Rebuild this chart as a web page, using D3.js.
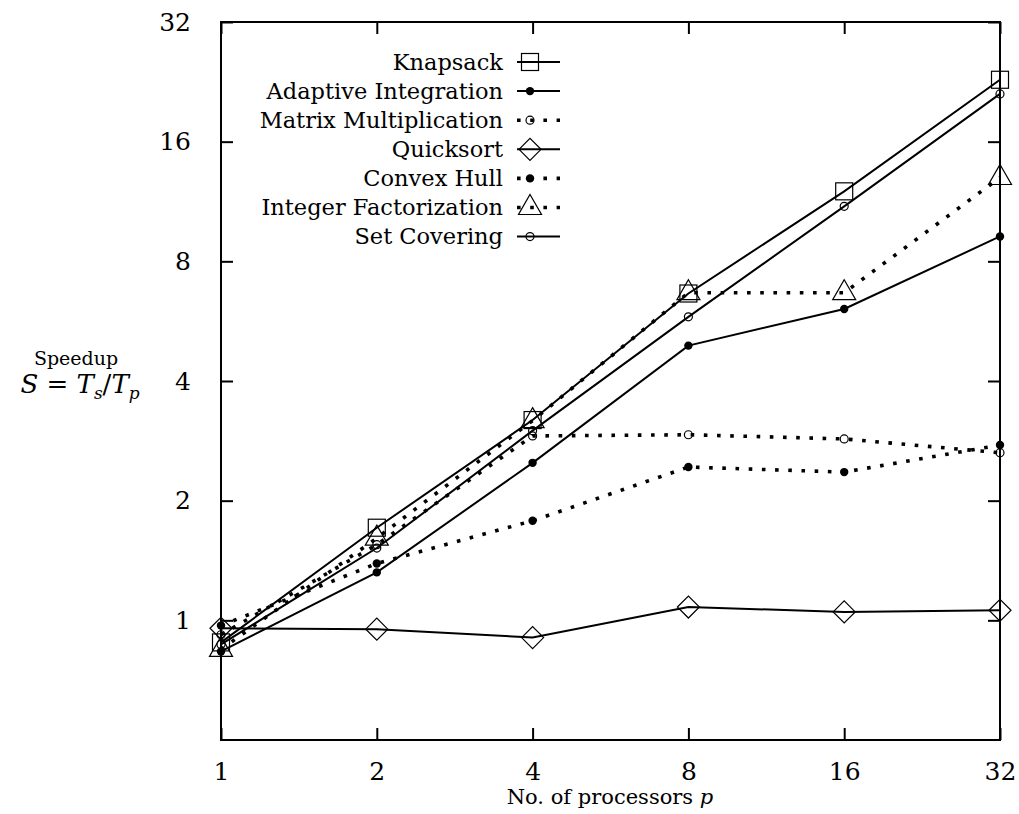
<!DOCTYPE html>
<html>
<head>
<meta charset="utf-8">
<script src="https://cdn.jsdelivr.net/npm/d3@7"></script>
<style>
  body { margin: 0; background: #fff; }
  text { font-family: "DejaVu Serif", "Liberation Serif", serif; fill: #000; }
</style>
</head>
<body>
<svg id="chart" width="1019" height="814"></svg>
<script>
// Data
var procs = [1, 2, 4, 8, 16, 32];
var speedTicks = [1, 2, 4, 8, 16, 32];

var knapsack = [0.88, 1.71, 3.19, 6.64, 12.0, 22.9];
var adaptive = [0.835, 1.32, 2.49, 4.91, 6.07, 9.24];
var matrixMult = [0.92, 1.55, 2.91, 2.93, 2.86, 2.64];
var quicksort = [0.955, 0.95, 0.905, 1.08, 1.05, 1.06];
var convexHull = [0.97, 1.39, 1.78, 2.43, 2.36, 2.76];
var intFactor = [0.845, 1.61, 3.18, 6.67, 6.67, 13.0];
var setCover = [0.87, 1.52, 3.0, 5.8, 11.0, 21.1];

var names = ['Knapsack', 'Adaptive Integration', 'Matrix Multiplication', 'Quicksort',
             'Convex Hull', 'Integer Factorization', 'Set Covering'];

// series styling: marker type + dotted or not
var series = [
    { name: names[0], values: knapsack,   marker: 'square',   dotted: false },
    { name: names[1], values: adaptive,   marker: 'dot',      dotted: false },
    { name: names[2], values: matrixMult, marker: 'circle',   dotted: true },
    { name: names[3], values: quicksort,  marker: 'diamond',  dotted: false },
    { name: names[4], values: convexHull, marker: 'dot',      dotted: true },
    { name: names[5], values: intFactor,  marker: 'triangle', dotted: true },
    { name: names[6], values: setCover,   marker: 'circle',   dotted: false }
];

var svg = d3.select('#chart');

// plot box
var plotL = 221, plotR = 1000, plotT = 22, plotB = 740;

var x = d3.scaleLog().base(2).domain([1, 32]).range([plotL, plotR]);
var y = d3.scaleLog().base(2).domain([0.5, 32]).range([plotB, plotT]);

// Frame
svg.append('rect')
    .attr('x', plotL).attr('y', plotT)
    .attr('width', plotR - plotL).attr('height', plotB - plotT)
    .attr('fill', 'none').attr('stroke', '#000').attr('stroke-width', 2);

// Axes with inward ticks on all four sides
var tickLen = 12;
svg.append('g')
    .attr('transform', 'translate(0,' + plotB + ')')
    .call(d3.axisBottom(x).tickValues(procs).tickSize(-tickLen).tickPadding(tickLen + 10).tickFormat(d3.format('d')))
    .call(function(g) { g.select('.domain').remove(); });
svg.append('g')
    .attr('transform', 'translate(0,' + plotT + ')')
    .call(d3.axisTop(x).tickValues(procs).tickSize(-tickLen).tickFormat(''))
    .call(function(g) { g.select('.domain').remove(); });
svg.append('g')
    .attr('transform', 'translate(' + plotL + ',0)')
    .call(d3.axisLeft(y).tickValues(speedTicks).tickSize(-tickLen).tickPadding(tickLen + 18).tickFormat(d3.format('d')))
    .call(function(g) { g.select('.domain').remove(); });
svg.append('g')
    .attr('transform', 'translate(' + plotR + ',0)')
    .call(d3.axisRight(y).tickValues(speedTicks).tickSize(-tickLen).tickFormat(''))
    .call(function(g) { g.select('.domain').remove(); });

svg.selectAll('.tick line').attr('stroke', '#000').attr('stroke-width', 2);
svg.selectAll('.tick text')
    .attr('font-family', '"DejaVu Serif", serif')
    .attr('font-size', 25);

// Axis labels
svg.append('text')
    .attr('x', 610).attr('y', 804)
    .attr('text-anchor', 'middle')
    .attr('font-size', 21)
    .html('No. of processors <tspan font-style="italic">p</tspan>');

svg.append('text')
    .attr('x', 76).attr('y', 365)
    .attr('text-anchor', 'middle')
    .attr('font-size', 19)
    .text('Speedup');

var ylab = svg.append('text')
    .attr('x', 80).attr('y', 393)
    .attr('text-anchor', 'middle')
    .attr('font-size', 26);
ylab.append('tspan').attr('font-style', 'italic').text('S');
ylab.append('tspan').text(' = ');
ylab.append('tspan').attr('font-style', 'italic').text('T');
ylab.append('tspan').attr('font-style', 'italic').attr('font-size', 17).attr('dy', 6).text('s');
ylab.append('tspan').attr('dy', -6).text('/');
ylab.append('tspan').attr('font-style', 'italic').text('T');
ylab.append('tspan').attr('font-style', 'italic').attr('font-size', 17).attr('dy', 6).text('p');

// Line generator
var line = d3.line()
    .x(function(d, i) { return x(procs[i]); })
    .y(function(d) { return y(d); });

function styleLine(sel, dotted) {
    if (dotted) {
        sel.attr('stroke-width', 3.6).attr('stroke-dasharray', '3.6,9.6');
    } else {
        sel.attr('stroke-width', 2);
    }
    return sel;
}

// Marker drawing
function drawMarker(g, type, cx, cy) {
    if (type == 'square') {
        g.append('rect').attr('x', cx - 8.5).attr('y', cy - 8.5).attr('width', 17).attr('height', 17)
            .attr('fill', 'none').attr('stroke', '#000').attr('stroke-width', 1.2);
    } else if (type == 'diamond') {
        g.append('path').attr('d', 'M' + (cx - 11) + ',' + cy + 'L' + cx + ',' + (cy - 11) +
                'L' + (cx + 11) + ',' + cy + 'L' + cx + ',' + (cy + 11) + 'Z')
            .attr('fill', 'none').attr('stroke', '#000').attr('stroke-width', 1.2);
    } else if (type == 'triangle') {
        g.append('path').attr('d', 'M' + cx + ',' + (cy - 13) + 'L' + (cx + 11.5) + ',' + (cy + 7) +
                'L' + (cx - 11.5) + ',' + (cy + 7) + 'Z')
            .attr('fill', 'none').attr('stroke', '#000').attr('stroke-width', 1.2);
    } else if (type == 'circle') {
        g.append('circle').attr('cx', cx).attr('cy', cy).attr('r', 4)
            .attr('fill', 'none').attr('stroke', '#000').attr('stroke-width', 1.2);
    } else {
        g.append('circle').attr('cx', cx).attr('cy', cy).attr('r', 4.2)
            .attr('fill', '#000');
    }
}

// Series
series.forEach(function(s) {
    var g = svg.append('g').attr('class', 'series');
    styleLine(g.append('path')
        .datum(s.values)
        .attr('d', line)
        .attr('fill', 'none')
        .attr('stroke', '#000'), s.dotted);

    s.values.forEach(function(v, i) {
        drawMarker(g, s.marker, x(procs[i]), y(v));
    });
});

// Legend
var legend = svg.append('g').attr('class', 'legend');
series.forEach(function(s, i) {
    var ly = 62 + i * 29.1;
    legend.append('text')
        .attr('x', 503).attr('y', ly)
        .attr('dy', '.35em')
        .attr('text-anchor', 'end')
        .attr('font-size', 22.5)
        .text(s.name);
    styleLine(legend.append('line')
        .attr('x1', 517).attr('x2', 560)
        .attr('y1', ly).attr('y2', ly)
        .attr('stroke', '#000'), s.dotted);
    drawMarker(legend, s.marker, 530, ly);
});
</script>
</body>
</html>
